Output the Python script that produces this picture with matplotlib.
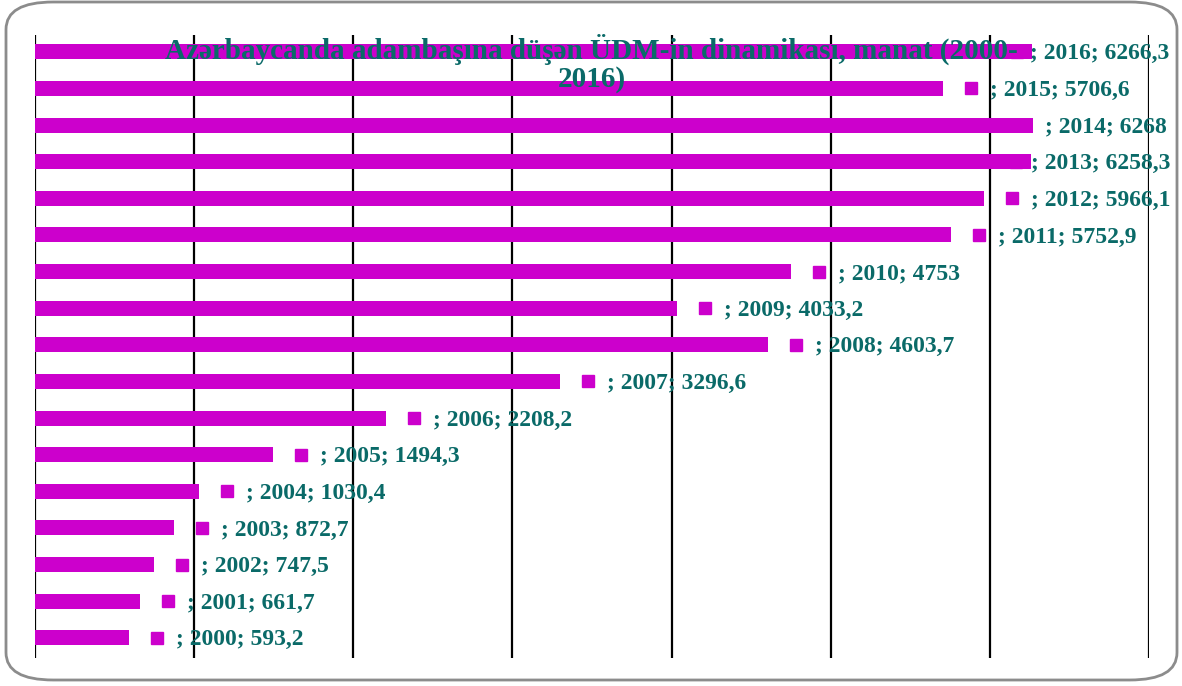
import matplotlib.pyplot as plt
from matplotlib.patches import FancyBboxPatch
from matplotlib.transforms import offset_copy

years = [2000, 2001, 2002, 2003, 2004, 2005, 2006, 2007, 2008,
         2009, 2010, 2011, 2012, 2013, 2014, 2015, 2016]
values = [593.2, 661.7, 747.5, 872.7, 1030.4, 1494.3, 2208.2, 3296.6, 4603.7,
          4033.2, 4753, 5752.9, 5966.1, 6258.3, 6268, 5706.6, 6266.3]
labels = ['; %d; %s' % (y, ('%g' % v).replace('.', ',')) for y, v in zip(years, values)]

title = 'Azərbaycanda adambaşına düşən ÜDM-in dinamikası, manat (2000-\n2016)'

bar_col = '#cc00cc'
txt_col = '#0a6a68'
serif = ['Liberation Serif', 'DejaVu Serif']

fig = plt.figure(figsize=(11.82, 6.86), dpi=100)
ax = fig.add_axes([35/1182, 1 - 658/686, (1149 - 35)/1182, (658 - 35)/686])

pos = list(range(len(years)))
ax.barh(pos, values, height=0.41, color=bar_col, zorder=2)

# markers + labels to the right of each bar
for i, v in enumerate(values):
    if v > 6200:
        # near the right edge: label pulled in, marker hidden under the bar
        mdx, ldx = -15, {2013: 0, 2014: 12, 2016: -2}[years[i]]
    else:
        mdx, ldx = 28, 47
    tr_m = offset_copy(ax.transData, fig=fig, x=mdx, y=0, units='dots')
    tr_l = offset_copy(ax.transData, fig=fig, x=ldx, y=-2, units='dots')
    ax.plot([v], [i], marker='s', ms=8.6, color=bar_col, ls='none',
            transform=tr_m, zorder=3, clip_on=False)
    ax.text(v, i, labels[i], transform=tr_l, ha='left', va='center',
            fontsize=17, fontweight='bold', color=txt_col, family=serif,
            zorder=4, clip_on=False)

ax.set_xlim(0, 7000)
ax.set_ylim(-0.55, 16.46)
ax.set_xticks(range(0, 7001, 1000))
ax.grid(axis='x', color='black', lw=1.6, zorder=1)
ax.tick_params(length=0, labelbottom=False, labelleft=False)
for s in ax.spines.values():
    s.set_visible(False)

fig.text(0.5005, 1 - 63/686, title, ha='center', va='center', fontsize=21,
         fontweight='bold', color=txt_col, family=serif, linespacing=1.02,
         zorder=10)

frame = FancyBboxPatch((6/1182, 6/686), 1171/1182, 678/686,
                       boxstyle='round,pad=0,rounding_size=0.04',
                       transform=fig.transFigure, fill=False,
                       ec='#8c8c8c', lw=2, zorder=0)
fig.patches.append(frame)

fig.savefig('out.png', dpi=100)
